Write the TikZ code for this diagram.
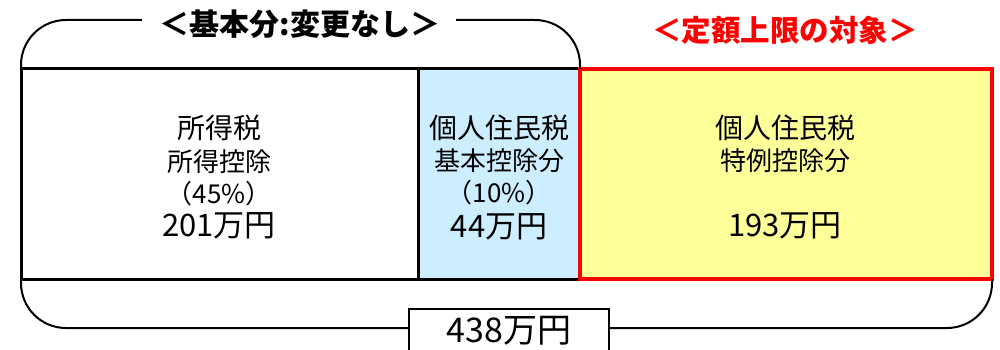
\documentclass[tikz,border=0pt]{standalone}
\usepackage{fontspec}
\setmainfont{Noto Sans CJK JP}
\definecolor{cellblue}{HTML}{CCEEFF}
\definecolor{cellyellow}{HTML}{FFFF99}
\definecolor{boxred}{HTML}{FF0000}
\tikzset{
  tbl/.style={line width=3pt, draw=black},
  redframe/.style={line width=4pt, draw=boxred},
  bracket/.style={line width=2pt, draw=black, rounded corners=45pt},
  lineA/.style={inner sep=0pt, font=\fontsize{28}{28}\selectfont},
  lineB/.style={inner sep=0pt, font=\fontsize{26}{26}\selectfont},
  amount/.style={inner sep=0pt, font=\fontsize{31}{31}\selectfont},
  toplab/.style={inner sep=0pt, font=\bfseries\fontsize{30}{30}\selectfont},
  totalbox/.style={draw=black, line width=2pt, fill=white, minimum width=200pt, minimum height=44pt, inner sep=0pt, font=\fontsize{34}{34}\selectfont}
}
\begin{document}
\begin{tikzpicture}[x=1pt,y=-1pt]
\useasboundingbox (0,0) rectangle (1000,350);
\clip (0,0) rectangle (1000,350);
% cells
\fill[cellblue] (418,69) rectangle (580,279);
\fill[cellyellow] (580,69) rectangle (992,279);
\draw[tbl] (21,69) rectangle (580,279);
\draw[tbl] (418,69) -- (418,279);
\draw[redframe] (580,69) rectangle (992,279);
% left cell text
\node[lineA] (l1) at (219,128) {所得税};
\node[lineB] (l2) at (219,162) {所得控除};
\node[lineB] (l3) at (219,194) {（45\%）};
\node[amount] (l4) at (219,226) {201万円};
% blue cell text
\node[lineA] (b1) at (499,128) {個人住民税};
\node[lineB] (b2) at (499,161) {基本控除分};
\node[lineB] (b3) at (499,193) {（10\%）};
\node[amount] (b4) at (499,227) {44万円};
% yellow cell text
\node[lineA] (y1) at (785,128) {個人住民税};
\node[lineB] (y2) at (785,161) {特例控除分};
\node[amount] (y4) at (785,226) {193万円};
% top labels
\node[toplab] (kihon) at (300,24) {＜基本分:変更なし＞};
\node[toplab, text=boxred, font=\bfseries\fontsize{29.5}{29.5}\selectfont] (teigaku) at (785,30) {＜定額上限の対象＞};
% top bracket
\draw[bracket] (21,69) |- (142,20);
\draw[bracket] (456,20) -| (580,69);
% bottom total
\node[totalbox] (total) at (509,331) {438万円};
\draw[bracket] (21,279) |- (total.west |- 0,328);
\draw[bracket] (total.east |- 0,328) -| (992,279);
\end{tikzpicture}
\end{document}
